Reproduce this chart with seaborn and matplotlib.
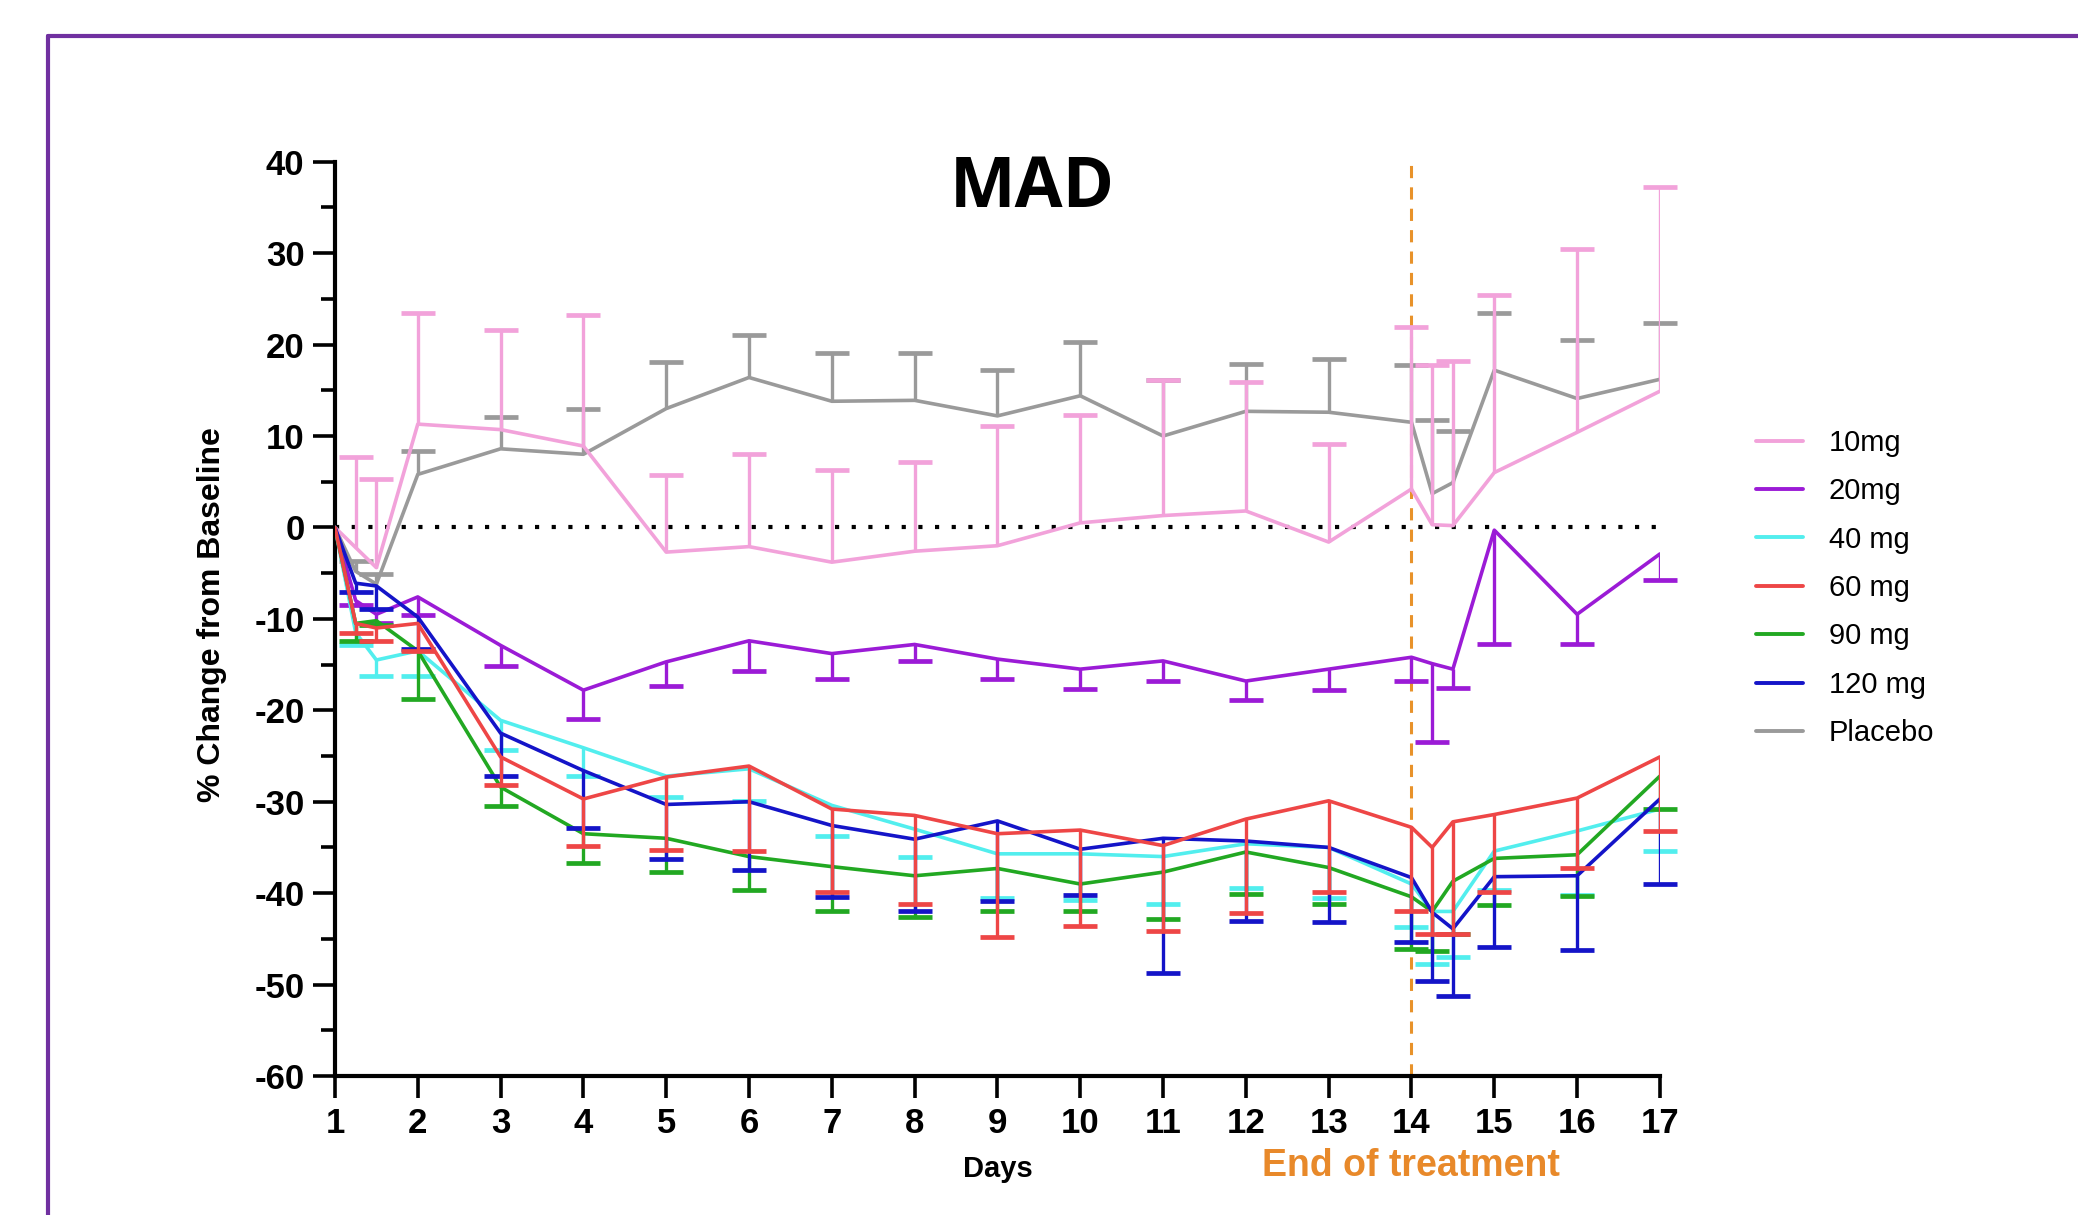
import numpy as np
import pandas as pd
import seaborn as sns
import matplotlib.pyplot as plt
from matplotlib.lines import Line2D

# days of measurement (extra visits at 1.25/1.5 and 14.25/14.5)
days = [1, 1.25, 1.5, 2, 3, 4, 5, 6, 7, 8, 9, 10, 11, 12, 13, 14, 14.25, 14.5, 15, 16, 17]

mg10 = [0, -2.2, -4.4, 11.3, 10.7, 8.9, -2.7, -2.1, -3.8, -2.6, -2.0, 0.5, 1.3, 1.8, -1.6, 4.2, 0.3, 0.2, 6.0, 10.4, 14.9]
mg10_sem = [0, 9.9, 9.7, 12.2, 10.9, 14.3, 8.4, 10.1, 10.1, 9.8, 13.1, 11.8, 14.8, 14.1, 10.7, 17.7, 17.5, 18.0, 19.4, 20.1, 22.3]

mg20 = [0, -8.0, -9.5, -7.6, -12.9, -17.8, -14.7, -12.4, -13.8, -12.8, -14.4, -15.5, -14.6, -16.8, -15.5, -14.2, -14.9, -15.5, -0.3, -9.5, -2.9]
mg20_sem = [0, 0.5, 1.0, 2.0, 2.3, 3.1, 2.6, 3.3, 2.8, 1.8, 2.2, 2.2, 2.2, 2.1, 2.3, 2.6, 8.6, 2.1, 12.5, 3.2, 2.8]

mg40 = [0, -11.5, -14.5, -13.5, -21.1, -24.1, -27.2, -26.4, -30.4, -33.0, -35.7, -35.7, -36.0, -34.6, -35.0, -39.0, -42.0, -42.0, -35.4, -33.2, -30.8]
mg40_sem = [0, 1.4, 1.8, 2.7, 3.2, 3.1, 2.3, 3.5, 3.3, 3.1, 4.8, 5.1, 5.2, 4.8, 5.5, 4.7, 5.8, 5.0, 4.3, 7.0, 4.6]

mg60 = [0, -10.5, -11.0, -10.5, -25.1, -29.7, -27.3, -26.1, -30.8, -31.5, -33.5, -33.1, -34.8, -31.9, -29.9, -32.8, -35.0, -32.2, -31.4, -29.6, -25.1]
mg60_sem = [0, 1.1, 1.4, 3.0, 3.1, 5.1, 8.0, 9.3, 9.1, 9.7, 11.3, 10.5, 9.3, 10.3, 10.0, 9.1, 9.5, 12.3, 8.5, 7.7, 8.1]

mg90 = [0, -10.5, -10.2, -13.5, -28.4, -33.5, -34.0, -36.0, -37.1, -38.1, -37.3, -39.0, -37.7, -35.5, -37.2, -40.4, -42.0, -38.7, -36.2, -35.8, -27.2]
mg90_sem = [0, 1.9, 0.5, 5.3, 2.1, 3.2, 3.7, 3.7, 4.8, 4.5, 4.7, 3.0, 5.1, 4.6, 4.0, 5.7, 4.3, 5.8, 5.1, 4.5, 3.6]

mg120 = [0, -6.1, -6.4, -9.8, -22.5, -26.6, -30.3, -30.0, -32.6, -34.1, -32.1, -35.2, -34.0, -34.3, -35.0, -38.3, -42.1, -43.9, -38.2, -38.1, -29.7]
mg120_sem = [0, 1.0, 2.5, 3.5, 4.7, 6.3, 6.0, 7.5, 7.8, 7.8, 8.8, 5.0, 14.7, 8.7, 8.2, 7.0, 7.5, 7.3, 7.7, 8.1, 9.3]

placebo = [0, -4.8, -6.2, 5.8, 8.6, 8.0, 13.0, 16.4, 13.8, 13.9, 12.2, 14.4, 10.0, 12.7, 12.6, 11.5, 3.7, 4.9, 17.2, 14.1, 16.2]
placebo_sem = [0, 1.1, 1.1, 2.6, 3.5, 5.0, 5.1, 4.7, 5.3, 5.2, 5.0, 5.9, 6.1, 5.2, 5.8, 6.3, 8.0, 5.7, 6.2, 6.4, 6.2]

groups = ["10mg", "20mg", "40 mg", "60 mg", "90 mg", "120 mg", "Placebo"]
means = [mg10, mg20, mg40, mg60, mg90, mg120, placebo]
sems = [mg10_sem, mg20_sem, mg40_sem, mg60_sem, mg90_sem, mg120_sem, placebo_sem]
err_up = [True, False, False, False, False, False, True]
colors = {"10mg": "#F2A2DA", "20mg": "#9B1BD6", "40 mg": "#52EEEE", "60 mg": "#EE4646",
          "90 mg": "#22A822", "120 mg": "#1414C8", "Placebo": "#9A9A9A"}

rows = []
for g, m, s in zip(groups, means, sems):
    for d, v, e in zip(days, m, s):
        rows.append({"Days": d, "Change": v, "SEM": e, "Group": g})
df = pd.DataFrame(rows)

sns.set_theme(style="ticks")
plt.rcParams["font.family"] = ["Liberation Sans", "DejaVu Sans"]
plt.rcParams["axes.unicode_minus"] = False
plt.rcParams["text.color"] = "black"
plt.rcParams["xtick.color"] = "black"
plt.rcParams["ytick.color"] = "black"

fig = plt.figure(figsize=(20.78, 12.15), dpi=100)
ax = fig.add_axes([0.1612, 0.1144, 0.6376, 0.7525])

draw_order = ["Placebo", "10mg", "20mg", "40 mg", "90 mg", "120 mg", "60 mg"]
for g in draw_order:
    i = groups.index(g)
    sub = df[df["Group"] == g]
    sns.lineplot(data=sub, x="Days", y="Change", color=colors[g], linewidth=2.6,
                 errorbar=None, ax=ax, legend=False, zorder=3)
    sub = sub[sub["SEM"] > 0]
    if err_up[i]:
        cap = sub["Change"] + sub["SEM"]
    else:
        cap = sub["Change"] - sub["SEM"]
    ax.vlines(sub["Days"], sub["Change"], cap, color=colors[g], linewidth=2.4, zorder=3)
    ax.plot(sub["Days"], cap, linestyle="none", marker="_", markersize=25,
            markeredgewidth=3.4, color=colors[g], zorder=3, clip_on=False)

ax.axhline(0, color="black", linestyle=(0, (1, 3)), linewidth=3, zorder=2)
ax.axvline(14, color="#E8922A", linestyle=(0, (4, 3)), linewidth=2.2, zorder=1)

ax.set_xlim(1, 17)
ax.set_ylim(-60, 40)
ax.set_xticks(range(1, 18))
ax.set_yticks(range(-60, 41, 10))
ax.set_yticks(range(-55, 40, 10), minor=True)
ax.tick_params(axis="both", which="major", length=16, width=2.6, labelsize=25, pad=6, color="black")
ax.tick_params(axis="y", which="minor", length=10, width=2.6, color="black")
for lab in ax.get_xticklabels() + ax.get_yticklabels():
    lab.set_fontweight("bold")
sns.despine(ax=ax)
for sp in ["left", "bottom"]:
    ax.spines[sp].set_linewidth(3.0)
    ax.spines[sp].set_color("black")
ax.set_xlabel("")
ax.set_ylabel("")

fig.text(212 / 2078, 1 - 615 / 1215, "% Change from Baseline", rotation=90, ha="center", va="center",
         fontsize=23, fontweight="bold")
fig.text(998 / 2078, 1 - 1169 / 1215, "Days", ha="center", va="center", fontsize=21, fontweight="bold")
fig.text(1411 / 2078, 1 - 1166 / 1215, "End of treatment", ha="center", va="center", fontsize=27,
         fontweight="bold", color="#E8892A")
fig.text(1032 / 2078, 1 - 189 / 1215, "MAD", ha="center", va="center", fontsize=50,
         fontweight="bold", family=["Open Sans", "DejaVu Sans"])

handles = [Line2D([0], [0], color=colors[g], linewidth=2.8) for g in groups]
fig.legend(handles, groups, loc="center left", bbox_to_anchor=(0.845, 1 - 588 / 1215), frameon=False,
           fontsize=21, handlelength=1.6, handletextpad=0.9, labelspacing=0.7, borderpad=0, borderaxespad=0)

# purple frame round the panel
fig.add_artist(Line2D([48 / 2078, 1.0], [1 - 36 / 1215, 1 - 36 / 1215], transform=fig.transFigure,
                      color="#7030A0", linewidth=3))
fig.add_artist(Line2D([48 / 2078, 48 / 2078], [0.0, 1 - 36 / 1215], transform=fig.transFigure,
                      color="#7030A0", linewidth=3))

fig.savefig("out.png", dpi=100, facecolor="white")
